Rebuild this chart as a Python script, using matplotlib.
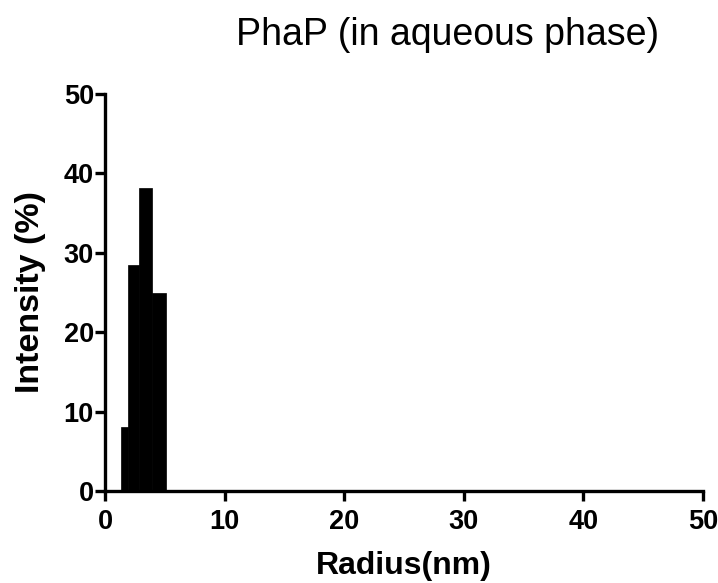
import matplotlib
matplotlib.use("Agg")
import matplotlib.pyplot as plt

plt.rcParams['font.family'] = ['Liberation Sans', 'DejaVu Sans']

# size distribution bins (nm) and intensity (%)
bin_edges = [1.31, 1.95, 2.84, 3.9, 5.1]
intensity = [8.0, 28.5, 38.2, 24.9]

lefts = bin_edges[:-1]
widths = [bin_edges[i + 1] - bin_edges[i] for i in range(len(intensity))]

fig = plt.figure(figsize=(7.18, 5.83), dpi=100)
ax = fig.add_axes([0.1462, 0.1578, 0.8330, 0.6810])

ax.bar(lefts, intensity, width=widths, align='edge', color='black', edgecolor='black', linewidth=0.5)

ax.set_xlim(0, 50)
ax.set_ylim(0, 50)
ax.set_xticks([0, 10, 20, 30, 40, 50])
ax.set_yticks([0, 10, 20, 30, 40, 50])

for s in ['top', 'right']:
    ax.spines[s].set_visible(False)
for s in ['left', 'bottom']:
    ax.spines[s].set_linewidth(2.4)

ax.tick_params(width=2.4, length=7, labelsize=19.5)
ax.tick_params(axis='x', pad=6)
ax.tick_params(axis='y', pad=1)
for lab in ax.get_xticklabels() + ax.get_yticklabels():
    lab.set_fontweight('bold')

ax.set_xlabel('Radius(nm)', fontsize=23, fontweight='bold')
ax.set_ylabel('Intensity (%)', fontsize=24.5, fontweight='bold')
ax.xaxis.set_label_coords(0.5, -0.19)
ax.xaxis.label.set_va('center')
ax.yaxis.set_label_coords(-0.125, 0.5)
ax.yaxis.label.set_va('center')

fig.text(0.624, 0.94, 'PhaP (in aqueous phase)', fontsize=27, ha='center', va='center')

fig.savefig('out.png', dpi=100)
